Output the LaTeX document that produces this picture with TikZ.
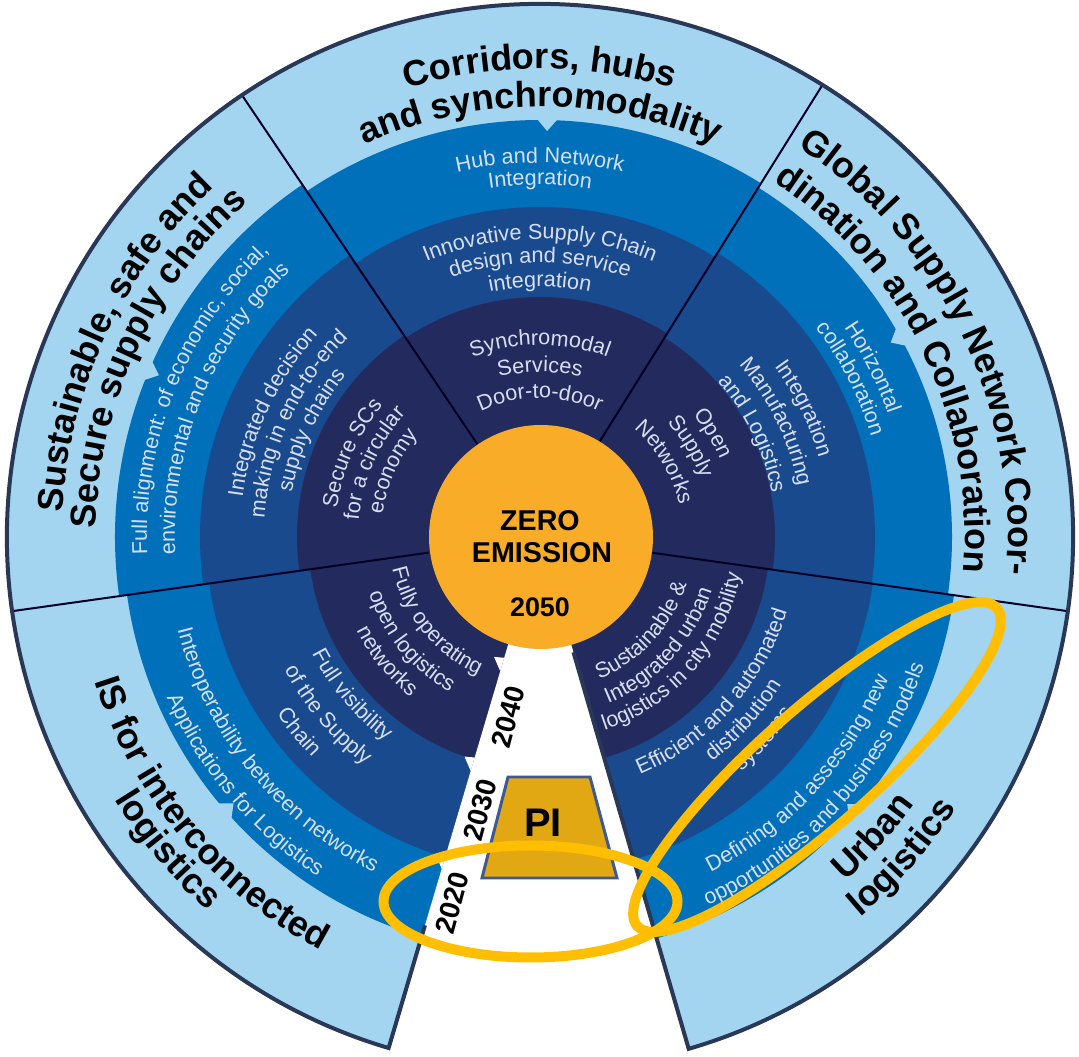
\documentclass[tikz,border=0pt]{standalone}
\usepackage{fontspec}
\setmainfont{Liberation Sans}
\usetikzlibrary{decorations.text}

\definecolor{lightring}{RGB}{163,213,241}
\definecolor{midring}{RGB}{0,112,186}
\definecolor{darkring}{RGB}{26,74,142}
\definecolor{deepring}{RGB}{35,42,94}
\definecolor{coreorange}{RGB}{248,172,40}
\definecolor{rimline}{RGB}{40,56,86}
\definecolor{goaltext}{RGB}{214,222,240}
\definecolor{pigold}{RGB}{226,168,20}
\definecolor{piedge}{RGB}{62,90,148}
\definecolor{marker}{RGB}{255,190,0}

\newcommand\themefont{\fontsize{20.5}{24}\selectfont\bfseries}
\newcommand\goalfont{\fontsize{12.3}{14}\selectfont}
\newcommand\toparc[4]{\path[#4={#3}] ({#1+80}:#2) arc[start angle={#1+80}, delta angle=-160, radius=#2];}
\newcommand\botarc[4]{\path[#4={#3}] ({#1-80}:#2) arc[start angle={#1-80}, delta angle=160, radius=#2];}

\begin{document}
\begin{tikzpicture}[x=0.02cm, y=0.02cm,
  theme/.style={decorate, decoration={text along path, text align=center,
    text color=black, text={|\themefont|#1}}},
  goal/.style={decorate, decoration={text along path, text align=center,
    text color=goaltext, text={|\goalfont|#1}}},
  spoke/.style={draw=black!85!blue, line width=0.04cm},
  rim/.style={draw=rimline, line width=0.08cm},
  year/.style={font=\fontsize{16}{18}\selectfont\bfseries, rotate=75},
  markring/.style={draw=marker, line width=0.2cm}]
  \useasboundingbox (-540,-520) rectangle (539,537);
  \fill[white] (-540,-520) rectangle (539,537);

  % rings, sector by sector
  \foreach \a/\b/\m/\d/\x in {58/124/417/330/240, 124/188/425/340/243,
      -8/58/412/335/235, 188/256/417/334/232, 284/352/418/336/230}{
    \fill[lightring] (0,0) -- (\a:533) arc[start angle=\a, end angle=\b, radius=533] -- cycle;
    \fill[midring] (0,0) -- (\a:\m) arc[start angle=\a, end angle=\b, radius=\m] -- cycle;
    \fill[darkring] (0,0) -- (\a:\d) arc[start angle=\a, end angle=\b, radius=\d] -- cycle;
    \fill[deepring] (0,0) -- (\a:\x) arc[start angle=\a, end angle=\b, radius=\x] -- cycle;
  }
  \foreach \t/\r in {89/417, 157/425, 29/412, 221/417, 319/418}
    \fill[lightring] ({\t-1.4}:\r+1) -- (\t:\r-11) -- ({\t+1.4}:\r+1) -- cycle;
  \foreach \a in {58,124,188,352}
    \draw[spoke] (\a:112) -- (\a:533);

  % time wedge
  \fill[white] (0,0) -- (253.5:560) -- (286.2:560) -- cycle;
  \foreach \r in {128,232,334}
    \fill[white] (253.5:\r) +(73.5:2) -- +(163.5:10) -- +(253.5:12) -- cycle;
  \draw[rim] (253.5:405) -- (253.5:533) arc[start angle=253.5, end angle=-73.8, radius=533]
    -- (-73.8:120);

  \fill[coreorange] (1,0) circle[radius=112];
  \node[font=\fontsize{16.3}{18}\selectfont\bfseries] (zero) at (0,16) {ZERO};
  \node[font=\fontsize{16.3}{18}\selectfont\bfseries] (emission) at (2,-16) {EMISSION};
  \node[font=\fontsize{15.3}{18}\selectfont\bfseries] (target) at (0,-70) {2050};

  % top sector
  \toparc{90}{468}{Corridors, hubs}{theme}
  \toparc{90}{430}{and synchromodality}{theme}
  \toparc{90}{374}{Hub and Network}{goal}
  \toparc{90}{352}{Integration}{goal}
  \toparc{90}{298}{Innovative Supply Chain}{goal}
  \toparc{90}{274}{design and service}{goal}
  \toparc{90}{250}{integration}{goal}
  \toparc{90}{192}{Synchromodal}{goal}
  \toparc{90}{165}{Services}{goal}
  \toparc{90}{139}{Door-to-door}{goal}

  % upper left sector
  \toparc{155}{478}{Sustainable, safe and}{theme}
  \toparc{155}{444}{Secure supply chains}{theme}
  \toparc{158}{393}{Full alignment: of economic, social,}{goal}
  \toparc{158}{365}{environmental and security goals}{goal}
  \toparc{155}{300}{Integrated decision}{goal}
  \toparc{155}{276}{making in end-to-end}{goal}
  \toparc{155}{252}{supply chains}{goal}
  \toparc{156}{205}{Secure SCs}{goal}
  \toparc{156}{182}{for a circular}{goal}
  \toparc{156}{159}{economy}{goal}

  % upper right sector
  \toparc{26}{468}{Global Supply Network Coor-}{theme}
  \toparc{26}{425}{dination and Collaboration}{theme}
  \toparc{27}{369}{Horizontal}{goal}
  \toparc{27}{346}{collaboration}{goal}
  \toparc{26}{290}{Integration}{goal}
  \toparc{26}{263}{Manufacturing}{goal}
  \toparc{26}{236}{and Logistics}{goal}
  \toparc{31}{196}{Open}{goal}
  \toparc{31}{171}{Supply}{goal}
  \toparc{31}{143}{Networks}{goal}

  % lower left sector
  \botarc{220}{468}{IS for interconnected}{theme}
  \botarc{220}{500}{logistics}{theme}
  \botarc{219}{374}{Interoperability between networks}{goal}
  \botarc{220}{406}{Applications for Logistics}{goal}
  \botarc{220}{256}{Full visibility}{goal}
  \botarc{220}{288}{of the Supply}{goal}
  \botarc{219}{317}{Chain}{goal}
  \botarc{219}{151}{Fully operating}{goal}
  \botarc{219}{180}{open logistics}{goal}
  \botarc{219}{206}{networks}{goal}

  % lower right sector
  \botarc{318}{460}{Urban}{theme}
  \botarc{318.5}{497}{logistics}{theme}
  \botarc{317.5}{376}{Defining and assessing new}{goal}
  \botarc{318}{405}{opportunities and business models}{goal}
  \botarc{318}{258}{Efficient and automated}{goal}
  \botarc{318}{283}{distribution}{goal}
  \botarc{318}{309}{systems}{goal}
  \botarc{317.5}{154}{Sustainable {\&}}{goal}
  \botarc{317.5}{180}{Integrated urban}{goal}
  \botarc{319}{204}{logistics in city mobility}{goal}

  % physical internet block and years
  \filldraw[fill=pigold, draw=piedge, line width=1.7pt]
    (-32,-240) -- (50,-240) -- (77,-341) -- (-58,-341) -- cycle;
  \node[font=\fontsize{22.7}{24}\selectfont\bfseries] (pi) at (3,-286) {PI};
  \node[year] (y2040) at (-32,-180) {2040};
  \node[year] (y2030) at (-60,-273) {2030};
  \node[year] (y2020) at (-88,-366) {2020};

  % highlight rings
  \draw[markring] (-9.5,-364.5) ellipse[x radius=147, y radius=56];
  \draw[markring, rotate around={41.5:(277,-230)}] (277,-230) ellipse[x radius=240, y radius=58];
\end{tikzpicture}
\end{document}
